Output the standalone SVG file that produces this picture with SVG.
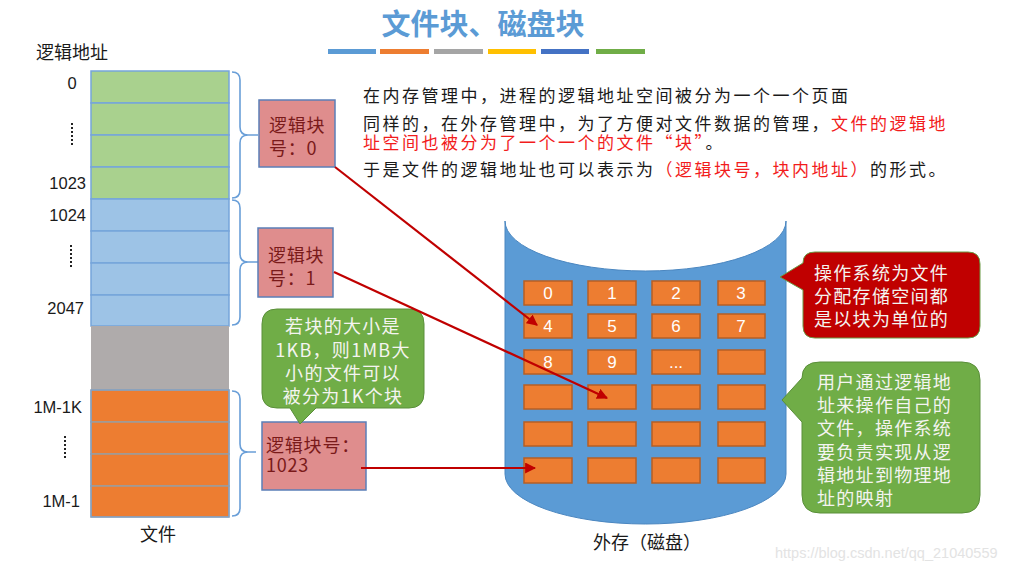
<svg xmlns="http://www.w3.org/2000/svg" width="1027" height="572" viewBox="0 0 1027 572">
<style>
  .cjk { font-family: "Noto Sans CJK SC", "Noto Sans", sans-serif; }
  .num { font-family: "Liberation Sans", "Noto Sans CJK SC", sans-serif; font-size: 16.5px; fill: #1a1a1a; }
  .para { font-family: "Noto Sans CJK SC", sans-serif; font-size: 17px; letter-spacing: 2.5px; fill: #1a1a1a; }
  .red { fill: #f21c1c; }
  .g { fill: #a9d18e; stroke: #76a5da; stroke-width: 1.5; }
  .b { fill: #9dc3e6; stroke: #76a5da; stroke-width: 1.5; }
  .o { fill: #ed7d31; stroke: #9c9c9c; stroke-width: 1.5; }
  .brace { fill: none; stroke: #6a9fd8; stroke-width: 1.6; }
  .dots { stroke: #222; stroke-width: 2; stroke-dasharray: 2 2; }
  .lbox { fill: #df8d8d; stroke: #5b7fb8; stroke-width: 1.5; }
  .ltxt { font-family: "Noto Sans CJK SC", sans-serif; font-size: 18px; letter-spacing: 0.8px; fill: #7a1a1a; }
  .blk { fill: #ed7d31; stroke: #b65f24; stroke-width: 1.5; }
  .btxt { font-family: "Liberation Sans", sans-serif; font-size: 17px; fill: #ffffff; text-anchor: middle; }
  .conn { stroke: #c00000; stroke-width: 2.2; fill: none; marker-end: url(#ah); }
  .ctxt { font-family: "Noto Sans CJK SC", sans-serif; font-size: 18px; letter-spacing: 1.3px; fill: #f4f4f0; }
</style>
<defs>
  <marker id="ah" viewBox="0 0 10 10" refX="9" refY="5" markerWidth="5" markerHeight="5" orient="auto" markerUnits="strokeWidth">
    <path d="M0,0 L10,5 L0,10 Z" fill="#c00000"/>
  </marker>
</defs>
<rect width="1027" height="572" fill="#ffffff"/>

<g id="title">
  <text x="483" y="35" text-anchor="middle" class="cjk" font-size="29" fill="#5b9bd5" font-weight="bold">文件块、磁盘块</text>
  <rect x="328" y="49" width="48" height="5" fill="#5b9bd5"/>
  <rect x="380" y="49" width="49" height="5" fill="#ed7d31"/>
  <rect x="434" y="49" width="49" height="5" fill="#a5a5a5"/>
  <rect x="488" y="49" width="48" height="5" fill="#ffc000"/>
  <rect x="541" y="49" width="48" height="5" fill="#4472c4"/>
  <rect x="596" y="49" width="49" height="5" fill="#70ad47"/>
</g>

<g id="description">
  <text class="para"><tspan x="363" y="102">在内存管理中，进程的逻辑地址空间被分为一个一个页面</tspan><tspan x="363" y="130">同样的，在外存管理中，为了方便对文件数据的管理，</tspan><tspan class="red">文件的逻辑地</tspan><tspan x="363" y="149" class="red">址空间也被分为了一个一个的文件“块”</tspan><tspan>。</tspan><tspan x="363" y="176">于是文件的逻辑地址也可以表示为</tspan><tspan class="red">（逻辑块号，块内地址）</tspan><tspan>的形式。</tspan></text>
</g>

<g id="file">
  <text x="36" y="59" class="cjk" font-size="18" fill="#1a1a1a">逻辑地址</text>
  <rect x="91" y="71" width="138" height="32" class="g"/>
  <rect x="91" y="103" width="138" height="32" class="g"/>
  <rect x="91" y="135" width="138" height="32" class="g"/>
  <rect x="91" y="167" width="138" height="32" class="g"/>
  <rect x="91" y="199" width="138" height="32" class="b"/>
  <rect x="91" y="231" width="138" height="32" class="b"/>
  <rect x="91" y="263" width="138" height="32" class="b"/>
  <rect x="91" y="295" width="138" height="31" class="b"/>
  <rect x="91" y="326" width="138" height="64" fill="#afabab"/>
  <rect x="91" y="390" width="138" height="32" class="o"/>
  <rect x="91" y="422" width="138" height="32" class="o"/>
  <rect x="91" y="454" width="138" height="32" class="o"/>
  <rect x="91" y="486" width="138" height="31" class="o"/>
  <rect x="91" y="390" width="138" height="127" fill="none" stroke="#76a5da" stroke-width="1"/>
  <text x="72" y="89" class="num" text-anchor="middle">0</text>
  <line x1="72" y1="123" x2="72" y2="146" class="dots"/>
  <text x="86" y="189" class="num" text-anchor="end">1023</text>
  <text x="86" y="221" class="num" text-anchor="end">1024</text>
  <line x1="71" y1="245" x2="71" y2="269" class="dots"/>
  <text x="84" y="314" class="num" text-anchor="end">2047</text>
  <text x="82" y="413" class="num" text-anchor="end">1M-1K</text>
  <line x1="65" y1="436" x2="65" y2="460" class="dots"/>
  <text x="80" y="507" class="num" text-anchor="end">1M-1</text>
  <text x="158" y="541" text-anchor="middle" class="cjk" font-size="18" fill="#1a1a1a">文件</text>
  <path class="brace" d="M232,72 Q240,72 240,80 V127 Q240,135 248,135 H258 M248,135 Q240,135 240,143 V190 Q240,198 232,198"/>
  <path class="brace" d="M232,200 Q240,200 240,208 V254 Q240,262 248,262 H258 M248,262 Q240,262 240,270 V317 Q240,325 232,325"/>
  <path class="brace" d="M232,391 Q240,391 240,399 V444 Q240,452 248,452 H256 M248,452 Q240,452 240,460 V508 Q240,516 232,516"/>
</g>

<g id="block0">
  <rect x="259" y="100" width="76" height="67" class="lbox"/>
  <text class="ltxt"><tspan x="269" y="132">逻辑块</tspan><tspan x="269" y="155">号：0</tspan></text>
</g>
<g id="block1">
  <rect x="258" y="228" width="75" height="69" class="lbox"/>
  <text class="ltxt"><tspan x="268" y="262">逻辑块</tspan><tspan x="268" y="285">号：1</tspan></text>
</g>
<g id="block1023">
  <rect x="262" y="422" width="104" height="68" class="lbox"/>
  <text class="ltxt"><tspan x="266" y="452">逻辑块号：</tspan><tspan x="266" y="472">1023</tspan></text>
</g>

<g id="note-size">
  <path d="M277,309 H409 Q424,309 424,324 V393 Q424,408 409,408 H316 L300,424 L290,408 H277 Q262,408 262,393 V324 Q262,309 277,309 Z" fill="#70ad47" stroke="#5a8f3a" stroke-width="1"/>
  <text text-anchor="middle" class="ctxt"><tspan x="343" y="333">若块的大小是</tspan><tspan x="343" y="357">1KB，则1MB大</tspan><tspan x="343" y="380">小的文件可以</tspan><tspan x="343" y="403">被分为1K个块</tspan></text>
</g>

<g id="disk">
  <path d="M505,221 V474 A140.5,50 0 0 0 786,474 V221 A140.5,50 0 0 1 505,221 Z" fill="#5b9bd5" stroke="#4a86c0" stroke-width="1"/>
  <g>
    <rect x="524" y="281" width="48" height="24" class="blk"/>
    <rect x="588" y="281" width="48" height="24" class="blk"/>
    <rect x="652" y="281" width="48" height="24" class="blk"/>
    <rect x="718" y="281" width="47" height="24" class="blk"/>
    <rect x="524" y="314" width="48" height="24" class="blk"/>
    <rect x="588" y="314" width="48" height="24" class="blk"/>
    <rect x="652" y="314" width="48" height="24" class="blk"/>
    <rect x="718" y="314" width="47" height="24" class="blk"/>
    <rect x="524" y="350" width="48" height="24" class="blk"/>
    <rect x="588" y="350" width="48" height="24" class="blk"/>
    <rect x="652" y="350" width="48" height="24" class="blk"/>
    <rect x="718" y="350" width="47" height="24" class="blk"/>
    <rect x="524" y="385" width="48" height="24" class="blk"/>
    <rect x="588" y="385" width="48" height="24" class="blk"/>
    <rect x="652" y="385" width="48" height="24" class="blk"/>
    <rect x="718" y="385" width="47" height="24" class="blk"/>
    <rect x="524" y="422" width="48" height="24" class="blk"/>
    <rect x="588" y="422" width="48" height="24" class="blk"/>
    <rect x="652" y="422" width="48" height="24" class="blk"/>
    <rect x="718" y="422" width="47" height="24" class="blk"/>
    <rect x="524" y="458" width="48" height="25" class="blk"/>
    <rect x="588" y="458" width="48" height="25" class="blk"/>
    <rect x="652" y="458" width="48" height="25" class="blk"/>
    <rect x="718" y="458" width="47" height="25" class="blk"/>
  </g>
  <text x="548" y="299" class="btxt">0</text>
  <text x="612" y="299" class="btxt">1</text>
  <text x="676" y="299" class="btxt">2</text>
  <text x="741" y="299" class="btxt">3</text>
  <text x="548" y="332" class="btxt">4</text>
  <text x="612" y="332" class="btxt">5</text>
  <text x="676" y="332" class="btxt">6</text>
  <text x="741" y="332" class="btxt">7</text>
  <text x="548" y="368" class="btxt">8</text>
  <text x="612" y="368" class="btxt">9</text>
  <text x="676" y="368" class="btxt">...</text>
  <text x="647" y="549" text-anchor="middle" class="cjk" font-size="18" fill="#1a1a1a">外存（磁盘）</text>
</g>

<g id="note-alloc">
  <path d="M815,252 H968 Q980,252 980,264 V326 Q980,338 968,338 H815 Q803,338 803,326 V290 L780,277 L803,263 Q803,252 815,252 Z" fill="#c00000" stroke="#6b9a45" stroke-width="1"/>
  <text class="ctxt"><tspan x="814" y="280">操作系统为文件</tspan><tspan x="814" y="303">分配存储空间都</tspan><tspan x="814" y="326">是以块为单位的</tspan></text>
</g>

<g id="note-map">
  <path d="M820,362 H962 Q980,362 980,380 V495 Q980,513 962,513 H820 Q802,513 802,495 V422 L782,400 L802,378 Q802,362 820,362 Z" fill="#70ad47" stroke="#5a8f3a" stroke-width="1"/>
  <text class="ctxt"><tspan x="817" y="389">用户通过逻辑地</tspan><tspan x="817" y="412">址来操作自己的</tspan><tspan x="817" y="435">文件，操作系统</tspan><tspan x="817" y="459">要负责实现从逻</tspan><tspan x="817" y="482">辑地址到物理地</tspan><tspan x="817" y="505">址的映射</tspan></text>
</g>

<g id="connectors">
  <line x1="335" y1="167" x2="537" y2="325" class="conn"/>
  <line x1="334" y1="272" x2="607" y2="398" class="conn"/>
  <line x1="361" y1="468" x2="535" y2="468" class="conn"/>
</g>

<text x="775" y="558" font-family="Liberation Sans, sans-serif" font-size="14.5" fill="#e3e3e3">https://blog.csdn.net/qq_21040559</text>
</svg>
